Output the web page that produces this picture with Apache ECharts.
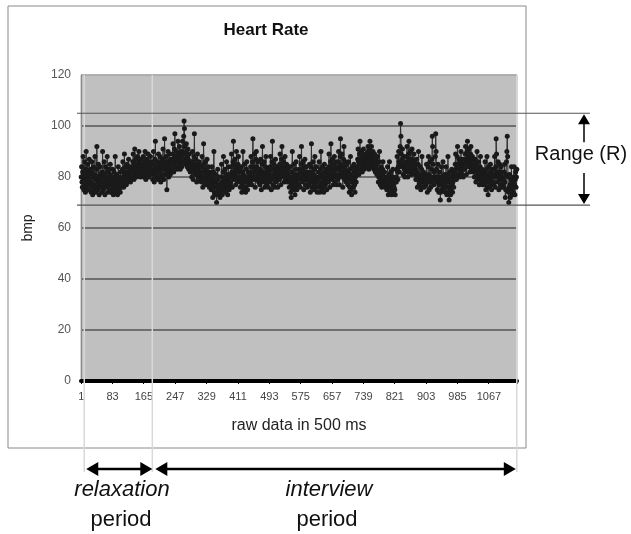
<!DOCTYPE html>
<html><head><meta charset="utf-8">
<script src="https://cdn.jsdelivr.net/npm/echarts@6/dist/echarts.min.js"></script>
<style>html,body{margin:0;padding:0;background:#fff}#c{width:631px;height:534px}</style>
</head><body><div id="c"></div>
<script>
// Heart rate samples (bmp), one raw sample per 500 ms
const relaxationHR = [
80,84,78,76,82,88,79,75,81,86,77,74,83,90,80,76,78,85,82,75,79,87,81,77,83,
78,74,82,86,76,73,80,84,77,75,81,88,79,74,76,83,92,80,75,78,85,77,73,79,84,81,76,
80,76,74,82,90,78,75,81,86,77,73,79,84,80,76,78,88,82,74,77,83,79,75,81,85,78,74,
77,74,80,83,76,73,79,82,75,78,88,80,74,76,81,77,73,79,84,76,75,80,78,74,82,79,76,
79,77,83,86,80,76,82,89,81,78,84,80,77,79,85,82,78,81,87,83,79,80,84,78,82,80,83,
84,80,86,89,82,79,85,91,83,81,87,84,80,82,88,85,81,83,90,86,82,84,80,87,83,85,
85,81,83,88,84,80,82,86,90,83,79,85,87,82,81,84,89,83,80,86,82,84,88,81,83,86,82
];
const interviewHR = [
82,79,85,90,83,78,81,87,94,84,80,82,86,83,79,84,89,82,80,85,88,83,78,81,86,
84,80,87,91,83,79,85,95,86,81,83,88,84,75,82,86,90,85,80,84,89,83,81,87,85,82,
86,83,89,93,87,82,85,91,97,88,84,86,90,87,83,88,94,86,84,89,92,87,83,85,90,
88,84,90,94,86,89,96,102,99,92,87,85,90,93,88,84,86,91,87,83,85,89,86,82,84,86,
83,80,86,90,84,79,82,88,97,85,81,83,87,82,78,84,89,83,80,85,86,81,79,84,82,
81,78,84,88,80,76,82,93,85,79,77,83,86,80,78,81,87,82,77,79,84,80,76,82,79,81,
78,75,80,84,77,72,76,82,90,79,74,73,78,81,76,70,74,79,83,77,73,75,80,76,72,
77,74,80,85,78,73,76,82,88,79,75,77,83,80,74,78,86,81,76,73,79,84,78,75,80,77,
81,78,84,89,82,76,80,86,94,85,79,81,87,83,77,82,90,84,80,78,85,88,82,79,83,
80,76,78,84,79,74,77,82,90,81,75,78,85,80,76,74,79,83,86,78,75,80,82,77,79,82,
81,78,84,88,82,77,80,86,95,84,79,82,89,83,76,81,87,90,84,79,83,86,80,78,82,
80,77,83,87,81,75,79,85,92,82,78,80,86,81,76,79,84,88,82,77,80,83,78,76,81,79,
82,78,84,88,80,75,79,86,94,83,77,81,85,80,76,82,87,83,78,80,84,79,76,81,83,
83,79,85,89,82,77,81,87,92,84,80,82,86,83,78,81,88,84,79,82,85,80,78,83,81,84,
80,76,78,84,79,74,72,77,82,90,80,75,78,85,81,76,73,79,83,86,78,75,80,77,81,
80,77,83,88,82,76,79,85,92,83,78,80,86,81,75,79,84,87,82,77,80,84,79,76,82,79,
81,77,79,85,80,74,78,84,93,82,76,79,86,81,75,77,83,88,80,76,78,84,79,74,80,
79,76,82,86,80,74,77,83,90,81,75,78,84,80,76,74,79,85,82,77,80,83,78,75,81,78,
82,78,84,89,83,76,80,86,93,84,79,81,87,82,77,80,85,88,83,78,81,86,80,77,83,
84,79,86,90,83,77,81,88,95,85,80,82,89,84,76,81,87,92,84,79,83,86,81,78,82,85,
80,77,82,86,79,74,76,83,88,81,75,73,78,84,80,76,79,85,82,77,74,80,83,78,81,
84,82,87,91,86,81,85,89,94,87,83,85,90,86,82,84,88,91,86,83,85,89,87,84,86,88,
88,84,90,92,87,83,86,91,94,89,85,87,92,88,84,86,90,87,83,85,89,86,82,84,87,
85,81,83,88,82,78,80,86,90,82,77,79,84,81,76,78,83,86,80,77,79,82,78,76,80,77,
78,75,80,84,77,73,76,81,86,79,74,76,82,78,73,75,80,83,77,74,76,79,75,73,78,
80,78,83,88,82,79,84,90,86,82,85,92,101,96,89,84,87,91,85,81,84,88,83,80,85,83,
86,82,88,92,85,80,83,89,94,87,82,84,90,86,81,85,91,87,83,82,86,89,84,81,85,
83,79,81,87,82,76,79,85,90,81,77,78,84,80,75,78,83,88,81,76,79,82,78,76,80,78,
81,77,79,85,80,74,78,84,88,81,75,79,86,80,76,78,83,87,96,92,85,80,77,82,79,
80,88,97,90,83,78,75,80,85,79,74,77,82,78,71,74,80,84,79,75,77,86,80,76,78,81,
77,74,80,84,78,73,76,81,88,79,74,71,76,82,78,73,75,80,83,77,74,78,81,76,79,
82,80,85,89,83,79,84,88,92,85,81,83,87,84,80,82,86,90,85,81,84,87,83,80,85,83,
87,83,89,92,86,81,85,90,94,88,84,86,91,87,82,85,89,92,86,83,85,88,84,82,86,
84,80,82,87,83,78,80,85,90,83,79,81,86,82,77,80,84,88,82,78,80,83,79,77,81,79,
80,77,82,86,79,75,78,83,88,81,76,73,78,84,80,76,79,85,82,77,75,80,83,78,81,
80,77,83,88,81,76,84,95,89,82,78,80,86,81,75,79,85,82,77,80,84,79,76,82,80,77,
79,76,82,85,78,72,75,81,86,90,96,88,80,74,70,76,81,77,72,75,79,84,77,73,76,
78,74,80,84,77,73,79,82,76,80,83
];
const heartRate = relaxationHR.concat(interviewHR);
const sampleLabels = heartRate.map((_, i) => String(i + 1));
const labelStep = 82;
const yMin = 0, yMax = 120, yStep = 20;
const rangeHigh = 105, rangeLow = 69;   // Range (R) band limits (bmp)
const relaxationStartIndex = 8;

const FONT = '"Liberation Sans", Arial, sans-serif';
const GRID = {left: 81, top: 75, width: 436, height: 306};

const chart = echarts.init(document.getElementById('c'), null, {renderer: 'canvas'});
chart.setOption({
  animation: false,
  backgroundColor: '#ffffff',
  grid: Object.assign({show: true, backgroundColor: '#c0c0c0', borderColor: '#a8a8a8', borderWidth: 1}, GRID),
  xAxis: {
    type: 'category', data: sampleLabels, boundaryGap: true,
    axisLine: {lineStyle: {color: '#000', width: 4}},
    axisTick: {show: true, interval: labelStep - 1, length: 3, lineStyle: {color: '#000'}},
    axisLabel: {interval: labelStep - 1, fontSize: 11, color: '#444', fontFamily: FONT, margin: 10},
    splitLine: {show: false},
    name: 'raw data in 500 ms', nameLocation: 'middle', nameGap: 37,
    nameTextStyle: {fontSize: 16, color: '#222', fontFamily: FONT}
  },
  yAxis: {
    type: 'value', min: yMin, max: yMax, interval: yStep,
    axisLine: {show: true, lineStyle: {color: '#8a8a8a'}},
    axisTick: {show: false},
    axisLabel: {fontSize: 12, color: '#555', fontFamily: FONT, margin: 10},
    splitLine: {lineStyle: {color: ['#555','#555','#555','#555','#555','#555','#a8a8a8'], width: 1.5}},
    name: 'bmp', nameLocation: 'middle', nameGap: 46, nameRotate: 90,
    nameTextStyle: {fontSize: 14, color: '#222', fontFamily: FONT}
  },
  series: [{
    type: 'line', data: heartRate, symbol: 'circle', symbolSize: 5, showAllSymbol: true,
    itemStyle: {color: '#1a1a1a'}, lineStyle: {color: '#2e2e2e', width: 1}, z: 3
  }]
});

const px = i => chart.convertToPixel({xAxisIndex: 0}, i);
const py = v => chart.convertToPixel({yAxisIndex: 0}, v);
const yHi = py(rangeHigh), yLo = py(rangeLow);
const xA = px(relaxationStartIndex), xB = px(relaxationHR.length), xC = px(heartRate.length - 1);
const bottomY = 469, lineEnd = 472;
const ax = 584;

function vline(x) {
  return {type: 'line', z: 1, silent: true, shape: {x1: x, y1: GRID.top, x2: x, y2: lineEnd},
          style: {stroke: '#d9d9d9', lineWidth: 1.5}};
}
function hline(y) {
  return {type: 'line', z: 10, silent: true, shape: {x1: GRID.left - 4, y1: y, x2: ax + 6, y2: y},
          style: {stroke: '#555', lineWidth: 1.2}};
}
function tri(points) {
  return {type: 'polygon', z: 10, silent: true, shape: {points: points}, style: {fill: '#000'}};
}
function seg(x1, y1, x2, y2, w) {
  return {type: 'line', z: 10, silent: true, shape: {x1, y1, x2, y2}, style: {stroke: '#000', lineWidth: w}};
}
function txt(s, x, y, font) {
  return {type: 'text', z: 10, silent: true, style: {text: s, x: x, y: y, font: font, fill: '#111', align: 'center', verticalAlign: 'middle'}};
}
function dblArrow(x1, x2, y) {
  const L = 12, H = 7;
  return [
    seg(x1 + L - 2, y, x2 - L + 2, y, 2.5),
    tri([[x1, y], [x1 + L, y - H], [x1 + L, y + H]]),
    tri([[x2, y], [x2 - L, y - H], [x2 - L, y + H]])
  ];
}

chart.setOption({
  graphic: [
    {type: 'rect', z: 0, silent: true, shape: {x: 8, y: 6, width: 518, height: 442}, style: {fill: 'none', stroke: '#8a8a8a', lineWidth: 1}},
    txt('Heart Rate', 266, 30, 'bold 17px ' + FONT),
    vline(xA), vline(xB), vline(xC),
    hline(yHi), hline(yLo),
    seg(ax, yHi + 8, ax, yHi + 29, 1.5),
    tri([[ax, yHi + 1], [ax - 6, yHi + 11], [ax + 6, yHi + 11]]),
    seg(ax, yLo - 32, ax, yLo - 8, 1.5),
    tri([[ax, yLo - 1], [ax - 6, yLo - 11], [ax + 6, yLo - 11]]),
    txt('Range (R)', 581, (yHi + yLo) / 2 - 5, '20px ' + FONT),
    ...dblArrow(xA + 2, xB, bottomY),
    ...dblArrow(xB + 3, xC - 1, bottomY),
    txt('relaxation', 122, 490, 'italic 22px ' + FONT),
    txt('period', 121, 520, '22px ' + FONT),
    txt('interview', 329, 490, 'italic 22px ' + FONT),
    txt('period', 327, 520, '22px ' + FONT)
  ]
});
</script>
</body></html>
